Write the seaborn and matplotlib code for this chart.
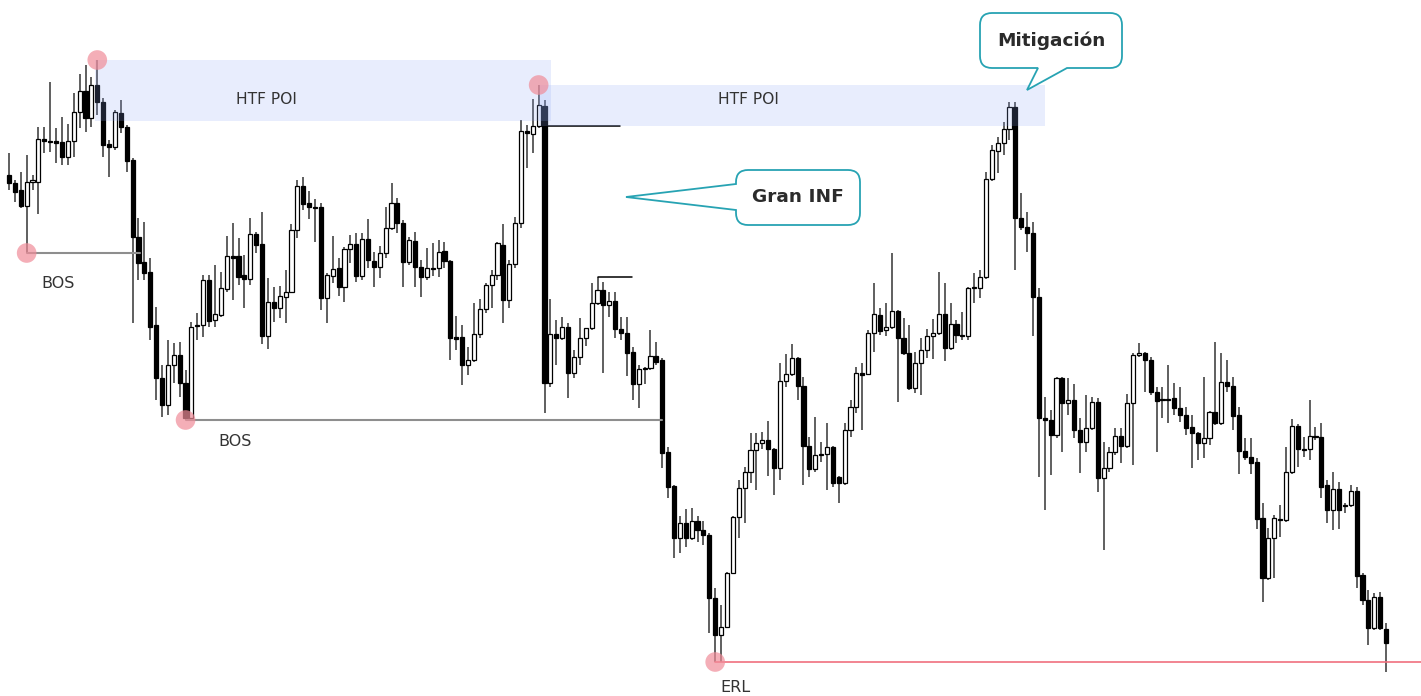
import numpy as np
import pandas as pd
import matplotlib
matplotlib.use("Agg")
import matplotlib.pyplot as plt
import seaborn as sns
from matplotlib.path import Path
from matplotlib.patches import PathPatch, Rectangle
from matplotlib.transforms import Affine2D

# ---------------------------------------------------------------- OHLC series
open_ = [525, 517, 510, 494, 518, 518, 561, 559, 559, 558, 543, 559, 588, 609, 582, 615, 598, 556, 553, 587,
         573, 540, 463, 438, 428, 375, 322, 295, 335, 345, 317, 282, 375, 375, 420, 380, 385, 411, 444, 444,
         425, 421, 466, 456, 364, 398, 392, 403, 408, 470, 514, 497, 493, 493, 402, 424, 432, 413, 451, 456,
         424, 461, 439, 433, 447, 472, 497, 477, 438, 459, 433, 423, 432, 432, 449, 439, 363, 363, 335, 340,
         366, 391, 415, 425, 455, 400, 436, 477, 569, 566, 574, 594, 317, 366, 362, 373, 327, 343, 362, 372,
         397, 410, 395, 399, 371, 367, 348, 316, 331, 332, 344, 340, 248, 214, 162, 177, 162, 179, 170, 165,
         102, 65, 73, 127, 183, 212, 228, 250, 257, 260, 251, 232, 319, 326, 342, 314, 254, 231, 245, 246,
         253, 223, 217, 270, 293, 327, 326, 367, 385, 370, 373, 389, 362, 347, 312, 337, 350, 364, 367, 386,
         352, 376, 365, 364, 412, 412, 423, 521, 549, 557, 571, 593, 482, 473, 467, 403, 282, 280, 265, 322,
         297, 300, 270, 258, 272, 298, 222, 232, 248, 264, 254, 297, 345, 347, 340, 308, 301, 301, 302, 292,
         285, 273, 267, 257, 262, 288, 277, 318, 314, 285, 249, 243, 238, 182, 122, 162, 181, 180, 228, 274,
         251, 251, 264, 263, 215, 190, 211, 195, 195, 209, 125, 100, 72, 103, 71]
high = [547, 520, 528, 545, 525, 573, 573, 618, 572, 583, 576, 607, 626, 635, 623, 640, 602, 560, 590, 600,
        575, 542, 482, 478, 442, 393, 335, 360, 357, 358, 330, 378, 387, 425, 425, 435, 428, 464, 477, 462,
        445, 482, 468, 488, 422, 413, 414, 430, 476, 520, 523, 509, 501, 497, 427, 464, 442, 453, 465, 467,
        467, 481, 448, 454, 493, 517, 502, 480, 463, 468, 440, 452, 457, 460, 458, 440, 384, 375, 353, 397,
        401, 417, 430, 458, 476, 440, 483, 580, 575, 601, 615, 600, 401, 380, 383, 377, 350, 382, 372, 417,
        423, 418, 408, 408, 383, 383, 353, 335, 333, 370, 358, 342, 253, 215, 184, 191, 192, 184, 179, 167,
        112, 95, 128, 184, 220, 233, 267, 267, 268, 279, 252, 337, 346, 356, 343, 323, 263, 283, 258, 277,
        254, 224, 277, 300, 333, 337, 370, 417, 392, 397, 447, 390, 382, 375, 348, 362, 371, 381, 428, 417,
        397, 380, 388, 413, 427, 430, 528, 555, 563, 578, 598, 598, 507, 488, 478, 412, 303, 290, 323, 323,
        322, 316, 282, 305, 303, 302, 258, 253, 272, 272, 306, 347, 357, 348, 343, 313, 313, 335, 317, 313,
        293, 285, 268, 323, 289, 358, 347, 340, 323, 293, 262, 262, 242, 197, 172, 185, 195, 253, 281, 276,
        263, 300, 273, 277, 220, 228, 218, 197, 215, 213, 127, 110, 107, 108, 77]
low = [510, 498, 492, 447, 510, 486, 547, 548, 537, 535, 535, 543, 572, 568, 573, 585, 543, 523, 550, 567,
       528, 377, 420, 420, 360, 300, 283, 285, 317, 303, 280, 280, 360, 363, 373, 373, 383, 408, 400, 415,
       392, 415, 447, 356, 351, 378, 382, 377, 407, 462, 490, 481, 458, 390, 377, 417, 404, 398, 437, 418,
       420, 432, 413, 422, 442, 470, 467, 413, 435, 413, 403, 420, 424, 423, 432, 340, 350, 315, 325, 338,
       362, 387, 392, 420, 377, 392, 432, 472, 532, 547, 572, 287, 313, 335, 360, 302, 322, 335, 354, 370,
       395, 327, 383, 362, 360, 324, 300, 292, 316, 330, 335, 232, 202, 142, 147, 153, 160, 158, 155, 67,
       38, 38, 72, 126, 162, 177, 217, 210, 251, 224, 205, 220, 313, 324, 300, 215, 223, 228, 238, 210,
       213, 197, 215, 263, 287, 270, 325, 348, 365, 364, 371, 298, 345, 310, 307, 305, 342, 341, 365, 339,
       350, 357, 360, 360, 397, 402, 421, 519, 527, 545, 560, 430, 470, 448, 364, 223, 190, 225, 262, 248,
       285, 262, 227, 248, 270, 208, 150, 228, 245, 237, 252, 235, 343, 308, 305, 248, 282, 277, 285, 278,
       265, 232, 240, 242, 255, 275, 275, 308, 270, 226, 240, 226, 171, 98, 120, 122, 163, 178, 226, 233,
       243, 240, 260, 202, 177, 170, 171, 187, 193, 112, 95, 55, 70, 70, 28]
close = [517, 508, 494, 518, 520, 561, 559, 558, 557, 543, 559, 588, 609, 582, 615, 598, 555, 553, 588, 573,
         539, 463, 437, 427, 373, 322, 295, 335, 345, 317, 282, 373, 374, 420, 379, 386, 412, 444, 442, 423,
         421, 466, 455, 364, 398, 392, 404, 408, 470, 514, 496, 493, 492, 402, 425, 431, 413, 451, 456, 424,
         461, 440, 433, 447, 472, 497, 477, 438, 460, 433, 423, 432, 431, 448, 439, 362, 361, 335, 340, 366,
         391, 415, 425, 457, 400, 436, 477, 569, 567, 574, 595, 317, 366, 362, 373, 327, 343, 362, 372, 397,
         410, 395, 399, 371, 367, 347, 316, 331, 332, 344, 338, 247, 213, 162, 177, 162, 179, 170, 165, 102,
         65, 73, 127, 183, 212, 228, 250, 257, 260, 251, 232, 319, 326, 342, 314, 254, 231, 245, 246, 253,
         217, 217, 270, 293, 327, 325, 367, 386, 369, 373, 389, 362, 347, 312, 337, 350, 364, 367, 386, 352,
         376, 365, 364, 412, 413, 423, 521, 550, 557, 571, 593, 482, 473, 467, 403, 282, 280, 265, 322, 297,
         300, 270, 258, 272, 298, 222, 232, 248, 264, 254, 297, 345, 347, 340, 308, 299, 300, 300, 292, 285,
         272, 267, 257, 262, 288, 277, 318, 314, 284, 249, 243, 237, 181, 122, 162, 182, 180, 228, 274, 251,
         250, 264, 263, 213, 190, 211, 190, 194, 209, 124, 100, 72, 103, 72, 57]

# ---------------------------------------------------------------- annotations
# swing points marked with a dot: (candle index, which extreme)
pivot_idx = [15, 90, 3, 30, 120]
pivot_side = ["high", "high", "low", "low", "low"]
# break-of-structure levels: start at a swing low, end at the breaking candle
bos_from = [3, 30]
bos_to = [22.3, 111]
bos_label_pos = [(8.3, 417), (38.4, 259)]
# external range liquidity line
erl_from = 120
erl_label_pos = (123.4, 12)
# higher-timeframe points of interest: (start, end, bottom, top)
poi_start = [14.6, 90.0]
poi_end = [92.1, 176.0]
poi_bottom = [579, 574]
poi_top = [640, 615]
poi_label_pos = [(43.7, 600), (125.6, 600)]
# short reference levels drawn in black: (candle, field, end index)
ref_candle = [90, 100]
ref_field = ["open", "high"]
ref_from = [91, 100]
ref_to = [103.8, 105.9]

df = pd.DataFrame({"open": open_, "high": high, "low": low, "close": close})
df["idx"] = np.arange(len(df))
df["bull"] = df["close"] > df["open"]

W, H = 1421, 696
sns.set_theme(style="white")
plt.rcParams["font.family"] = ["DejaVu Sans"]

fig = plt.figure(figsize=(W / 100, H / 100), dpi=100, facecolor="white")
ax = fig.add_axes([0, 0, 1, 1])
ax.set_facecolor("white")

step = 5.885
x_left = -9 / step
ax.set_xlim(x_left, x_left + W / step)
ax.set_ylim(4, 700)
ax.set_axis_off()

# wicks
ax.vlines(df["idx"], df["low"], df["high"], color="#343434", lw=1.1, zorder=2)

# bodies
body_lo = np.minimum(df["open"], df["close"])
body_h = np.maximum(np.abs(df["close"] - df["open"]), 1.0)
ax.bar(df["idx"], body_h, bottom=body_lo, width=0.7,
       color=np.where(df["bull"], "white", "black"), edgecolor="black",
       linewidth=0.9, zorder=3)

# POI zones, laid over the candles
for s, e, b, t in zip(poi_start, poi_end, poi_bottom, poi_top):
    ax.add_patch(Rectangle((s, b), e - s, t - b, facecolor="#8fa9f5", alpha=0.2,
                           edgecolor="none", zorder=4))
for (lx, ly) in poi_label_pos:
    ax.text(lx, ly, "HTF POI", ha="center", va="center", fontsize=11.2,
            color="#333333", zorder=6)

# BOS levels
for a, b in zip(bos_from, bos_to):
    lvl = df.loc[a, "low"]
    sns.lineplot(x=[a, b], y=[lvl, lvl], ax=ax, color="#8e8e8e", linewidth=1.5,
                 zorder=3.5, legend=False)
for (lx, ly) in bos_label_pos:
    ax.text(lx, ly, "BOS", ha="center", va="center", fontsize=11.5, color="#333333")

# ERL level
erl_lvl = df.loc[erl_from, "low"]
sns.lineplot(x=[erl_from, x_left + W / step], y=[erl_lvl, erl_lvl], ax=ax,
             color="#f0707e", linewidth=1.2, zorder=3.5, legend=False)
ax.text(*erl_label_pos, "ERL", ha="center", va="center", fontsize=11.5, color="#333333")

# short black reference levels
for c, f, a, b in zip(ref_candle, ref_field, ref_from, ref_to):
    lvl = df.loc[c, f]
    sns.lineplot(x=[a, b], y=[lvl, lvl], ax=ax, color="black", linewidth=1.1,
                 zorder=3.5, legend=False)

# swing point dots
piv = pd.DataFrame({"x": pivot_idx,
                    "y": [df.loc[i, s] for i, s in zip(pivot_idx, pivot_side)]})
sns.scatterplot(data=piv, x="x", y="y", ax=ax, s=200, color="#f08c99", alpha=0.7,
                edgecolor="none", zorder=5, legend=False)


# speech-bubble callouts, drawn in pixel space (y grows downward)
def bubble_path(x0, y0, x1, y1, r, side, b0, b1, tip):
    verts, codes = [], []

    def mv(p):
        verts.append(p); codes.append(Path.MOVETO)

    def ln(p):
        verts.append(p); codes.append(Path.LINETO)

    def qd(c, p):
        verts.extend([c, p]); codes.extend([Path.CURVE3, Path.CURVE3])

    mv((x0 + r, y0))
    ln((x1 - r, y0)); qd((x1, y0), (x1, y0 + r))
    ln((x1, y1 - r)); qd((x1, y1), (x1 - r, y1))
    if side == "bottom":
        ln((b1, y1)); ln(tip); ln((b0, y1))
    ln((x0 + r, y1)); qd((x0, y1), (x0, y1 - r))
    if side == "left":
        ln((x0, b1)); ln(tip); ln((x0, b0))
    ln((x0, y0 + r)); qd((x0, y0), (x0 + r, y0))
    verts.append((x0 + r, y0)); codes.append(Path.CLOSEPOLY)
    return Path(verts, codes)


px = Affine2D().scale(1 / 100, -1 / 100).translate(0, H / 100) + fig.dpi_scale_trans

callouts = [
    ("Gran INF", (736, 170, 860, 225), "left", (184, 210), (626, 197)),
    ("Mitigación", (980, 13, 1122, 68), "bottom", (1038, 1067), (1027, 90)),
]
for text, (x0, y0, x1, y1), side, (b0, b1), tip in callouts:
    path = bubble_path(x0, y0, x1, y1, 12, side, b0, b1, tip)
    fig.add_artist(PathPatch(path, transform=px, facecolor="white",
                             edgecolor="#27a3b3", linewidth=1.3, zorder=7))
    fig.text((x0 + x1) / 2 / W, 1 - (y0 + y1) / 2 / H, text, ha="center", va="center",
             fontsize=13.3, fontweight="bold", color="#2b2b2b", zorder=8)

fig.savefig("out.png", dpi=100, facecolor="white")
